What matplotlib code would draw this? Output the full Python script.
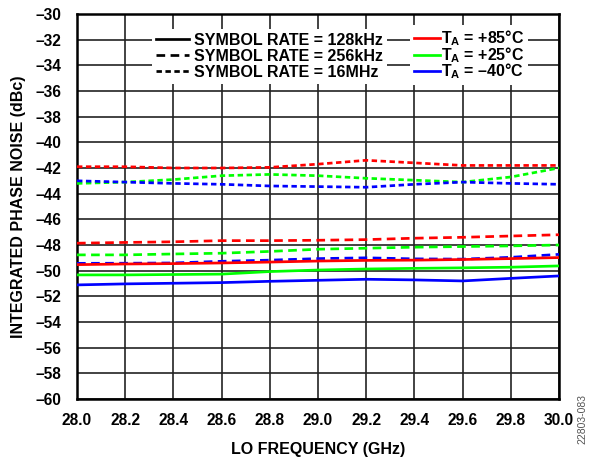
import matplotlib
matplotlib.use("Agg")
import matplotlib.pyplot as plt
from matplotlib.lines import Line2D

plt.rcParams['font.family'] = ['Liberation Sans', 'DejaVu Sans']
plt.rcParams['font.weight'] = 'bold'
plt.rcParams['mathtext.fontset'] = 'custom'
plt.rcParams['mathtext.rm'] = 'Liberation Sans:bold'
plt.rcParams['mathtext.it'] = 'Liberation Sans:bold'
plt.rcParams['mathtext.bf'] = 'Liberation Sans:bold'

freq = [28.0, 28.2, 28.4, 28.6, 28.8, 29.0, 29.2, 29.4, 29.6, 29.8, 30.0]

# 16 MHz symbol rate (dotted)
r16M = [-41.9, -41.9, -42.0, -42.0, -41.95, -41.7, -41.4, -41.6, -41.8, -41.8, -41.8]
g16M = [-43.2, -43.1, -42.9, -42.6, -42.5, -42.6, -42.8, -42.95, -43.1, -42.7, -42.0]
b16M = [-43.0, -43.1, -43.2, -43.27, -43.4, -43.45, -43.5, -43.27, -43.1, -43.2, -43.27]

# 256 kHz symbol rate (dashed)
r256k = [-47.86, -47.8, -47.75, -47.66, -47.66, -47.63, -47.58, -47.47, -47.4, -47.3, -47.2]
g256k = [-48.77, -48.77, -48.7, -48.64, -48.5, -48.33, -48.25, -48.17, -48.12, -48.07, -48.0]
b256k = [-49.43, -49.42, -49.4, -49.27, -49.18, -49.06, -49.0, -49.08, -49.1, -48.96, -48.73]

# 128 kHz symbol rate (solid)
r128k = [-49.53, -49.48, -49.45, -49.4, -49.33, -49.25, -49.2, -49.18, -49.13, -49.06, -48.98]
g128k = [-50.33, -50.33, -50.3, -50.27, -50.07, -49.95, -49.87, -49.82, -49.78, -49.73, -49.63]
b128k = [-51.11, -51.03, -50.98, -50.93, -50.83, -50.75, -50.67, -50.72, -50.8, -50.6, -50.41]

yticks = list(range(-60, -29, 2))
ytick_labels = [f'–{abs(v)}' for v in yticks]
xtick_labels = [f'{f:.1f}' for f in freq]

rate_labels = ['SYMBOL RATE = 128kHz', 'SYMBOL RATE = 256kHz', 'SYMBOL RATE = 16MHz']
temp_labels = [r'T$_{\mathrm{A}}$ = +85°C', r'T$_{\mathrm{A}}$ = +25°C', r'T$_{\mathrm{A}}$ = –40°C']
colors = ['#ff0000', '#00ff00', '#0000ff']

fig = plt.figure(figsize=(5.9, 4.58), dpi=100)
ax = fig.add_axes([77/590, 59/458, 482/590, 385/458])

lw = 1.95
dot = (2.0, 1.3)
dash = (3.2, 2.0)

for series, c in zip([r16M, g16M, b16M], colors):
    ax.plot(freq, series, color=c, lw=lw, dashes=dot, zorder=3)
for series, c in zip([r256k, g256k, b256k], colors):
    ax.plot(freq, series, color=c, lw=lw, dashes=dash, zorder=3)
for series, c in zip([r128k, g128k, b128k], colors):
    ax.plot(freq, series, color=c, lw=lw, ls='-', zorder=3)

ax.set_xlim(28.0, 30.0)
ax.set_ylim(-60, -30)
ax.set_xticks(freq)
ax.set_xticklabels(xtick_labels)
ax.set_yticks(yticks)
ax.set_yticklabels(ytick_labels)
ax.tick_params(length=0, labelsize=11.2)
ax.tick_params(axis='y', pad=11)
ax.tick_params(axis='x', pad=10)
ax.grid(True, color='#222222', lw=1.2)
ax.set_axisbelow(True)
for s in ax.spines.values():
    s.set_linewidth(1.8)

ax.set_xlabel('LO FREQUENCY (GHz)', fontsize=11.5, fontweight='bold', labelpad=10)
ax.set_ylabel('INTEGRATED PHASE NOISE (dBc)', fontsize=11.5, fontweight='bold', labelpad=7)

h1 = [Line2D([], [], color='black', lw=lw, ls='-'),
      Line2D([], [], color='black', lw=lw, dashes=dash),
      Line2D([], [], color='black', lw=lw, dashes=dot)]
leg1 = ax.legend(h1, rate_labels, loc='upper left', bbox_to_anchor=(0.155, 0.962),
                 fontsize=11.5, frameon=True, framealpha=1, facecolor='white',
                 edgecolor='none', fancybox=False, handlelength=2.1, handletextpad=0.3,
                 labelspacing=0.07, borderpad=0.25, borderaxespad=0)
ax.add_artist(leg1)
h2 = [Line2D([], [], color=c, lw=lw) for c in colors]
ax.legend(h2, temp_labels, loc='upper left', bbox_to_anchor=(0.69, 0.972),
          fontsize=11.5, frameon=True, framealpha=1, facecolor='white',
          edgecolor='none', fancybox=False, handlelength=1.65, handletextpad=0.05,
          labelspacing=-0.2, borderpad=0.25, borderaxespad=0)

fig.text(0.988, 0.03, '22803-083', rotation=90, fontsize=7.5, color='#555555',
         fontweight='normal', ha='center', va='bottom')

fig.savefig('out.png', dpi=100)
